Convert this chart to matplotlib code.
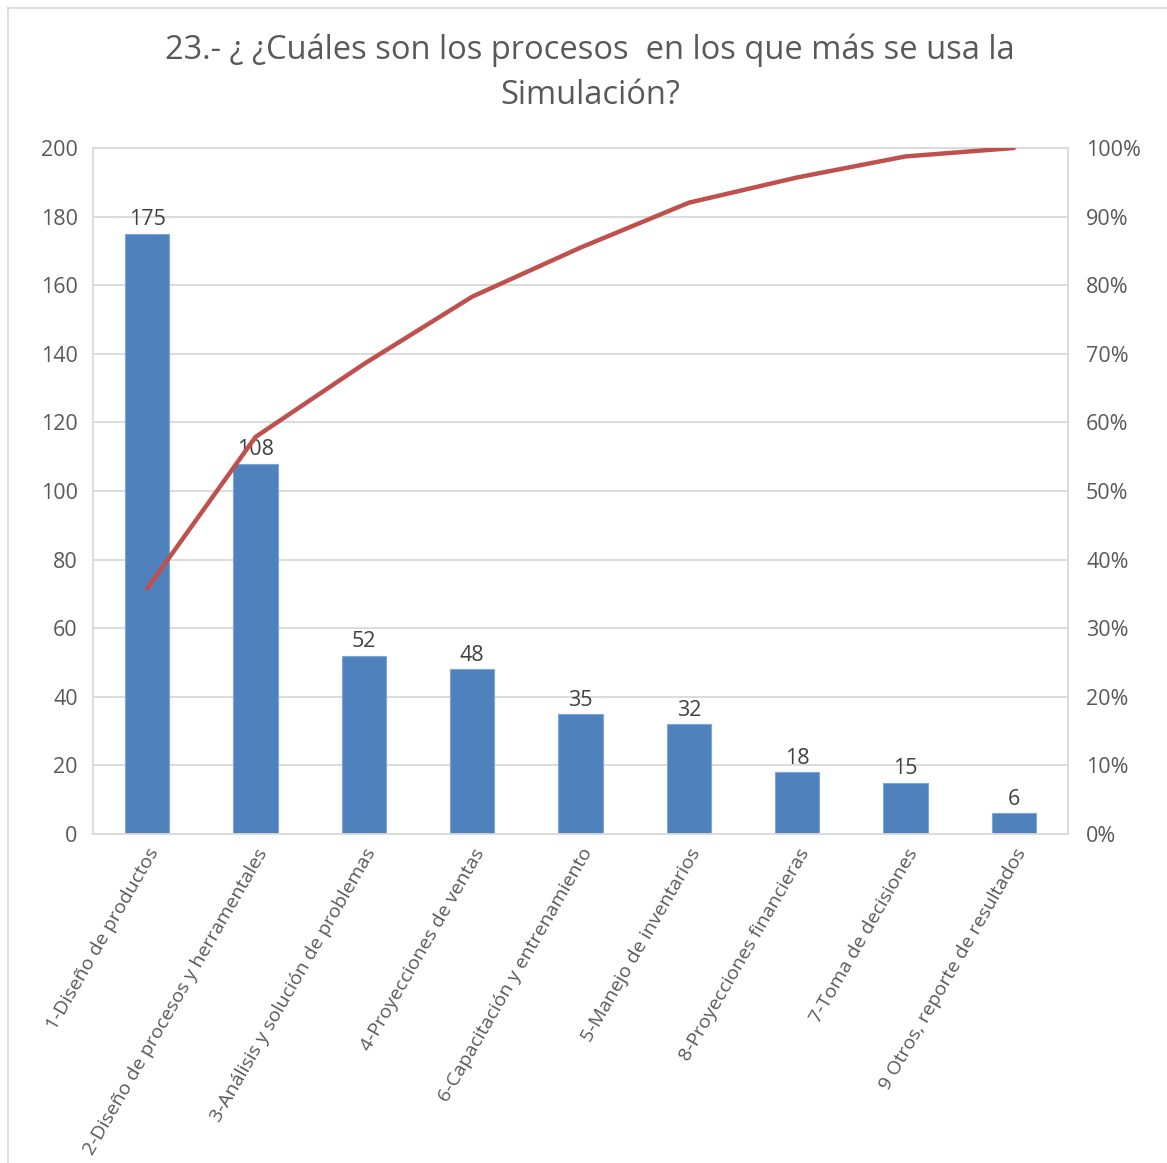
import matplotlib.pyplot as plt
from matplotlib.lines import Line2D
from matplotlib.ticker import FixedLocator, FuncFormatter

plt.rcParams['font.family'] = ['Open Sans', 'DejaVu Sans']

categories = [
    "1-Diseño de productos",
    "2-Diseño de procesos y herramentales",
    "3-Análisis y solución de problemas",
    "4-Proyecciones de ventas",
    "6-Capacitación y entrenamiento",
    "5-Manejo de inventarios",
    "8-Proyecciones financieras",
    "7-Toma de decisiones",
    "9 Otros, reporte de resultados",
]
counts = [175, 108, 52, 48, 35, 32, 18, 15, 6]
left_ticks = [0, 20, 40, 60, 80, 100, 120, 140, 160, 180, 200]
right_ticks = [0, 10, 20, 30, 40, 50, 60, 70, 80, 90, 100]

total = sum(counts)
cumulative = []
running = 0
for c in counts:
    running += c
    cumulative.append(running / total * 100)

W, H = 1167, 1163
fig = plt.figure(figsize=(W / 100, H / 100), dpi=100)
ax = fig.add_axes([93 / W, 1 - 834 / H, (1068 - 93) / W, (834 - 148) / H])

grey = '#d9d9d9'
txt = '#595959'

x = list(range(len(categories)))
ax.bar(x, counts, width=0.41, color='#4F81BD', edgecolor='#7ea6d8',
       linewidth=0.8, zorder=2)
for xi, v in zip(x, counts):
    ax.text(xi, v + 1.0, str(v), ha='center', va='bottom', fontsize=15.5,
            color='#404040', zorder=4)

ax.set_xlim(-0.5, len(categories) - 0.5)
ax.set_ylim(0, 200)
ax.yaxis.set_major_locator(FixedLocator(left_ticks))
ax.grid(axis='y', color=grey, linewidth=1.3, zorder=0)
ax.set_axisbelow(True)
for s in ax.spines.values():
    s.set_color(grey)
    s.set_linewidth(1.3)
ax.tick_params(axis='both', length=0, labelsize=15.5, labelcolor=txt)
ax.tick_params(axis='y', pad=11)
ax.set_xticks(x)
ax.set_xticklabels(categories, rotation=60, ha='right', rotation_mode='anchor',
                   fontsize=14, color=txt)
ax.tick_params(axis='x', pad=8)

ax2 = ax.twinx()
ax2.plot(x, cumulative, color='#C0504D', linewidth=3.2,
         solid_capstyle='round', zorder=3)
ax2.set_ylim(0, 100)
ax2.yaxis.set_major_locator(FixedLocator(right_ticks))
ax2.yaxis.set_major_formatter(FuncFormatter(lambda v, p: f"{int(v)}%"))
ax2.tick_params(axis='y', length=0, labelsize=15.5, labelcolor=txt, pad=13)
for s in ax2.spines.values():
    s.set_visible(False)

fig.text(590 / W, 1 - 50 / H, "23.- ¿ ¿Cuáles son los procesos  en los que más se usa la",
         ha='center', va='center', fontsize=23.5, color=txt)
fig.text(590 / W, 1 - 96 / H, "Simulación?", ha='center', va='center',
         fontsize=23.5, color=txt)

# outer chart frame (top and left edges)
fig.add_artist(Line2D([8 / W, 8 / W], [0, 1 - 8 / H], color=grey, linewidth=1.2,
                      transform=fig.transFigure))
fig.add_artist(Line2D([8 / W, 1], [1 - 8 / H, 1 - 8 / H], color=grey, linewidth=1.2,
                      transform=fig.transFigure))

fig.savefig('out.png', dpi=100, facecolor='white')
